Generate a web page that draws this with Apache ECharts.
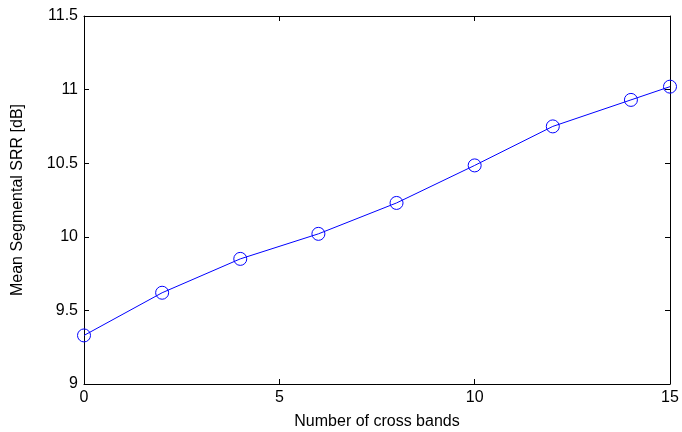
<!DOCTYPE html>
<html>
<head>
<meta charset="utf-8">
<script src="https://cdn.jsdelivr.net/npm/echarts@6/dist/echarts.min.js"></script>
<style>
  html, body { margin: 0; padding: 0; background: #fff; }
  #chart { width: 682px; height: 432px; }
</style>
</head>
<body>
<div id="chart"></div>
<script>
const crossBands = [0, 2, 4, 6, 8, 10, 12, 14, 15];
const meanSRR = [9.33, 9.62, 9.85, 10.02, 10.23, 10.485, 10.75, 10.93, 11.02];

const font = 'Arial, "Liberation Sans", sans-serif';
const chart = echarts.init(document.getElementById('chart'));

const boxAxis = {
  axisLine: { show: true, onZero: false, lineStyle: { color: '#000', width: 1 } },
  axisTick: { show: true, inside: true, length: 5, lineStyle: { color: '#000' } },
  splitLine: { show: false }
};

const option = {
  animation: false,
  grid: { left: 84, right: 12, top: 16, bottom: 48, outerBoundsMode: 'none' },
  xAxis: [
    Object.assign({}, boxAxis, {
      type: 'value', min: 0, max: 15, interval: 5,
      name: 'Number of cross bands', nameLocation: 'middle', nameGap: 30,
      nameTextStyle: { fontFamily: font, fontSize: 16, color: '#000' },
      axisLabel: { fontFamily: font, fontSize: 16, color: '#000', margin: 6 }
    }),
    Object.assign({}, boxAxis, {
      type: 'value', min: 0, max: 15, interval: 5, position: 'top',
      axisLabel: { show: false }
    })
  ],
  yAxis: [
    Object.assign({}, boxAxis, {
      type: 'value', min: 9, max: 11.5, interval: 0.5,
      name: 'Mean Segmental SRR [dB]', nameLocation: 'middle', nameGap: 58,
      nameTextStyle: { fontFamily: font, fontSize: 16, color: '#000' },
      axisLabel: { fontFamily: font, fontSize: 16, color: '#000', margin: 6 }
    }),
    Object.assign({}, boxAxis, {
      type: 'value', min: 9, max: 11.5, interval: 0.5, position: 'right',
      axisLabel: { show: false }
    })
  ],
  series: [{
    type: 'line',
    data: crossBands.map((x, i) => [x, meanSRR[i]]),
    symbol: 'circle',
    symbolSize: 13,
    lineStyle: { color: '#0000ff', width: 1 },
    itemStyle: { color: 'rgba(0,0,0,0)', borderColor: '#0000ff', borderWidth: 1 }
  }]
};

chart.setOption(option);
</script>
</body>
</html>
